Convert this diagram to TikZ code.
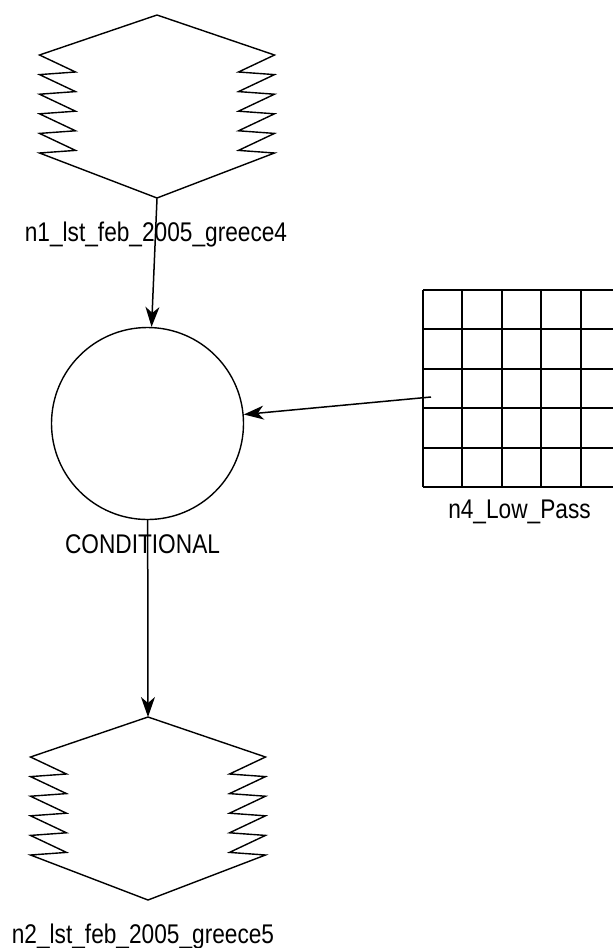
\documentclass[tikz,border=0pt]{standalone}
\usepackage{fontspec}
\setmainfont{Liberation Sans}
\usetikzlibrary{arrows.meta}
\newcommand{\lbltext}[1]{\scalebox{0.84}[1]{#1}}
\newcommand{\springshape}[3]{%
  \node[inner sep=0pt, minimum width=235pt, minimum height=183pt, anchor=north] (#1) at (#2,#3) {};
  \draw[shapeline] (#2,#3) -- (#2-117.5,#3+40)
    \foreach \k in {0,...,4}{ -- (#2-81.5,#3+57+19.6*\k) -- (#2-117.5,#3+59.6+19.6*\k) }
    -- (#2,#3+183) -- (#2+117.5,#3+138)
    \foreach \k in {4,3,2,1,0}{ -- (#2+81.5,#3+57+19.6*\k) -- (#2+117.5,#3+40+19.6*\k) }
    -- cycle;
}
\begin{document}
\begin{tikzpicture}[x=1pt,y=-1pt,
  shapeline/.style={line width=1.4pt, line join=miter},
  gridline/.style={line width=2pt},
  arr/.style={line width=1.5pt, -{Stealth[length=20pt, width=14pt, inset=6pt]}},
  lbl/.style={anchor=base, inner sep=0pt, font=\fontsize{27}{27}\selectfont, text=black}]
\useasboundingbox (0,0) rectangle (613,948);
\fill[white] (0,0) rectangle (613,948);

% n1
\springshape{n1}{157}{15}
\node[lbl] (n1lbl) at (156,241) {\lbltext{n1\_lst\_feb\_2005\_greece4}};

% conditional
\node[circle, draw, line width=1.4pt, minimum size=192pt, inner sep=0pt] (cond) at (147.5,423.5) {};
\node[lbl] (condlbl) at (142.5,553) {\lbltext{CONDITIONAL}};

% n4 grid
\node[inner sep=0pt, minimum width=190pt, minimum height=197pt, anchor=north west] (n4) at (423,290) {};
\foreach \i in {0,...,4}{
  \draw[gridline] (423+39.4*\i,290) -- (423+39.4*\i,487);
}
\foreach \j in {0,...,5}{
  \draw[gridline] (423,290+39.4*\j) -- (613,290+39.4*\j);
}
\node[lbl] (n4lbl) at (519.5,518) {\lbltext{n4\_Low\_Pass}};
\coordinate (n4in) at (431,397);

% n2
\springshape{n2}{148}{717}
\node[lbl] (n2lbl) at (143,943) {\lbltext{n2\_lst\_feb\_2005\_greece5}};

% connectors
\draw[arr] (n1.south) -- (cond);
\draw[arr] (n4in) -- (cond);
\draw[arr] (cond) -- (n2.north);
\end{tikzpicture}
\end{document}
